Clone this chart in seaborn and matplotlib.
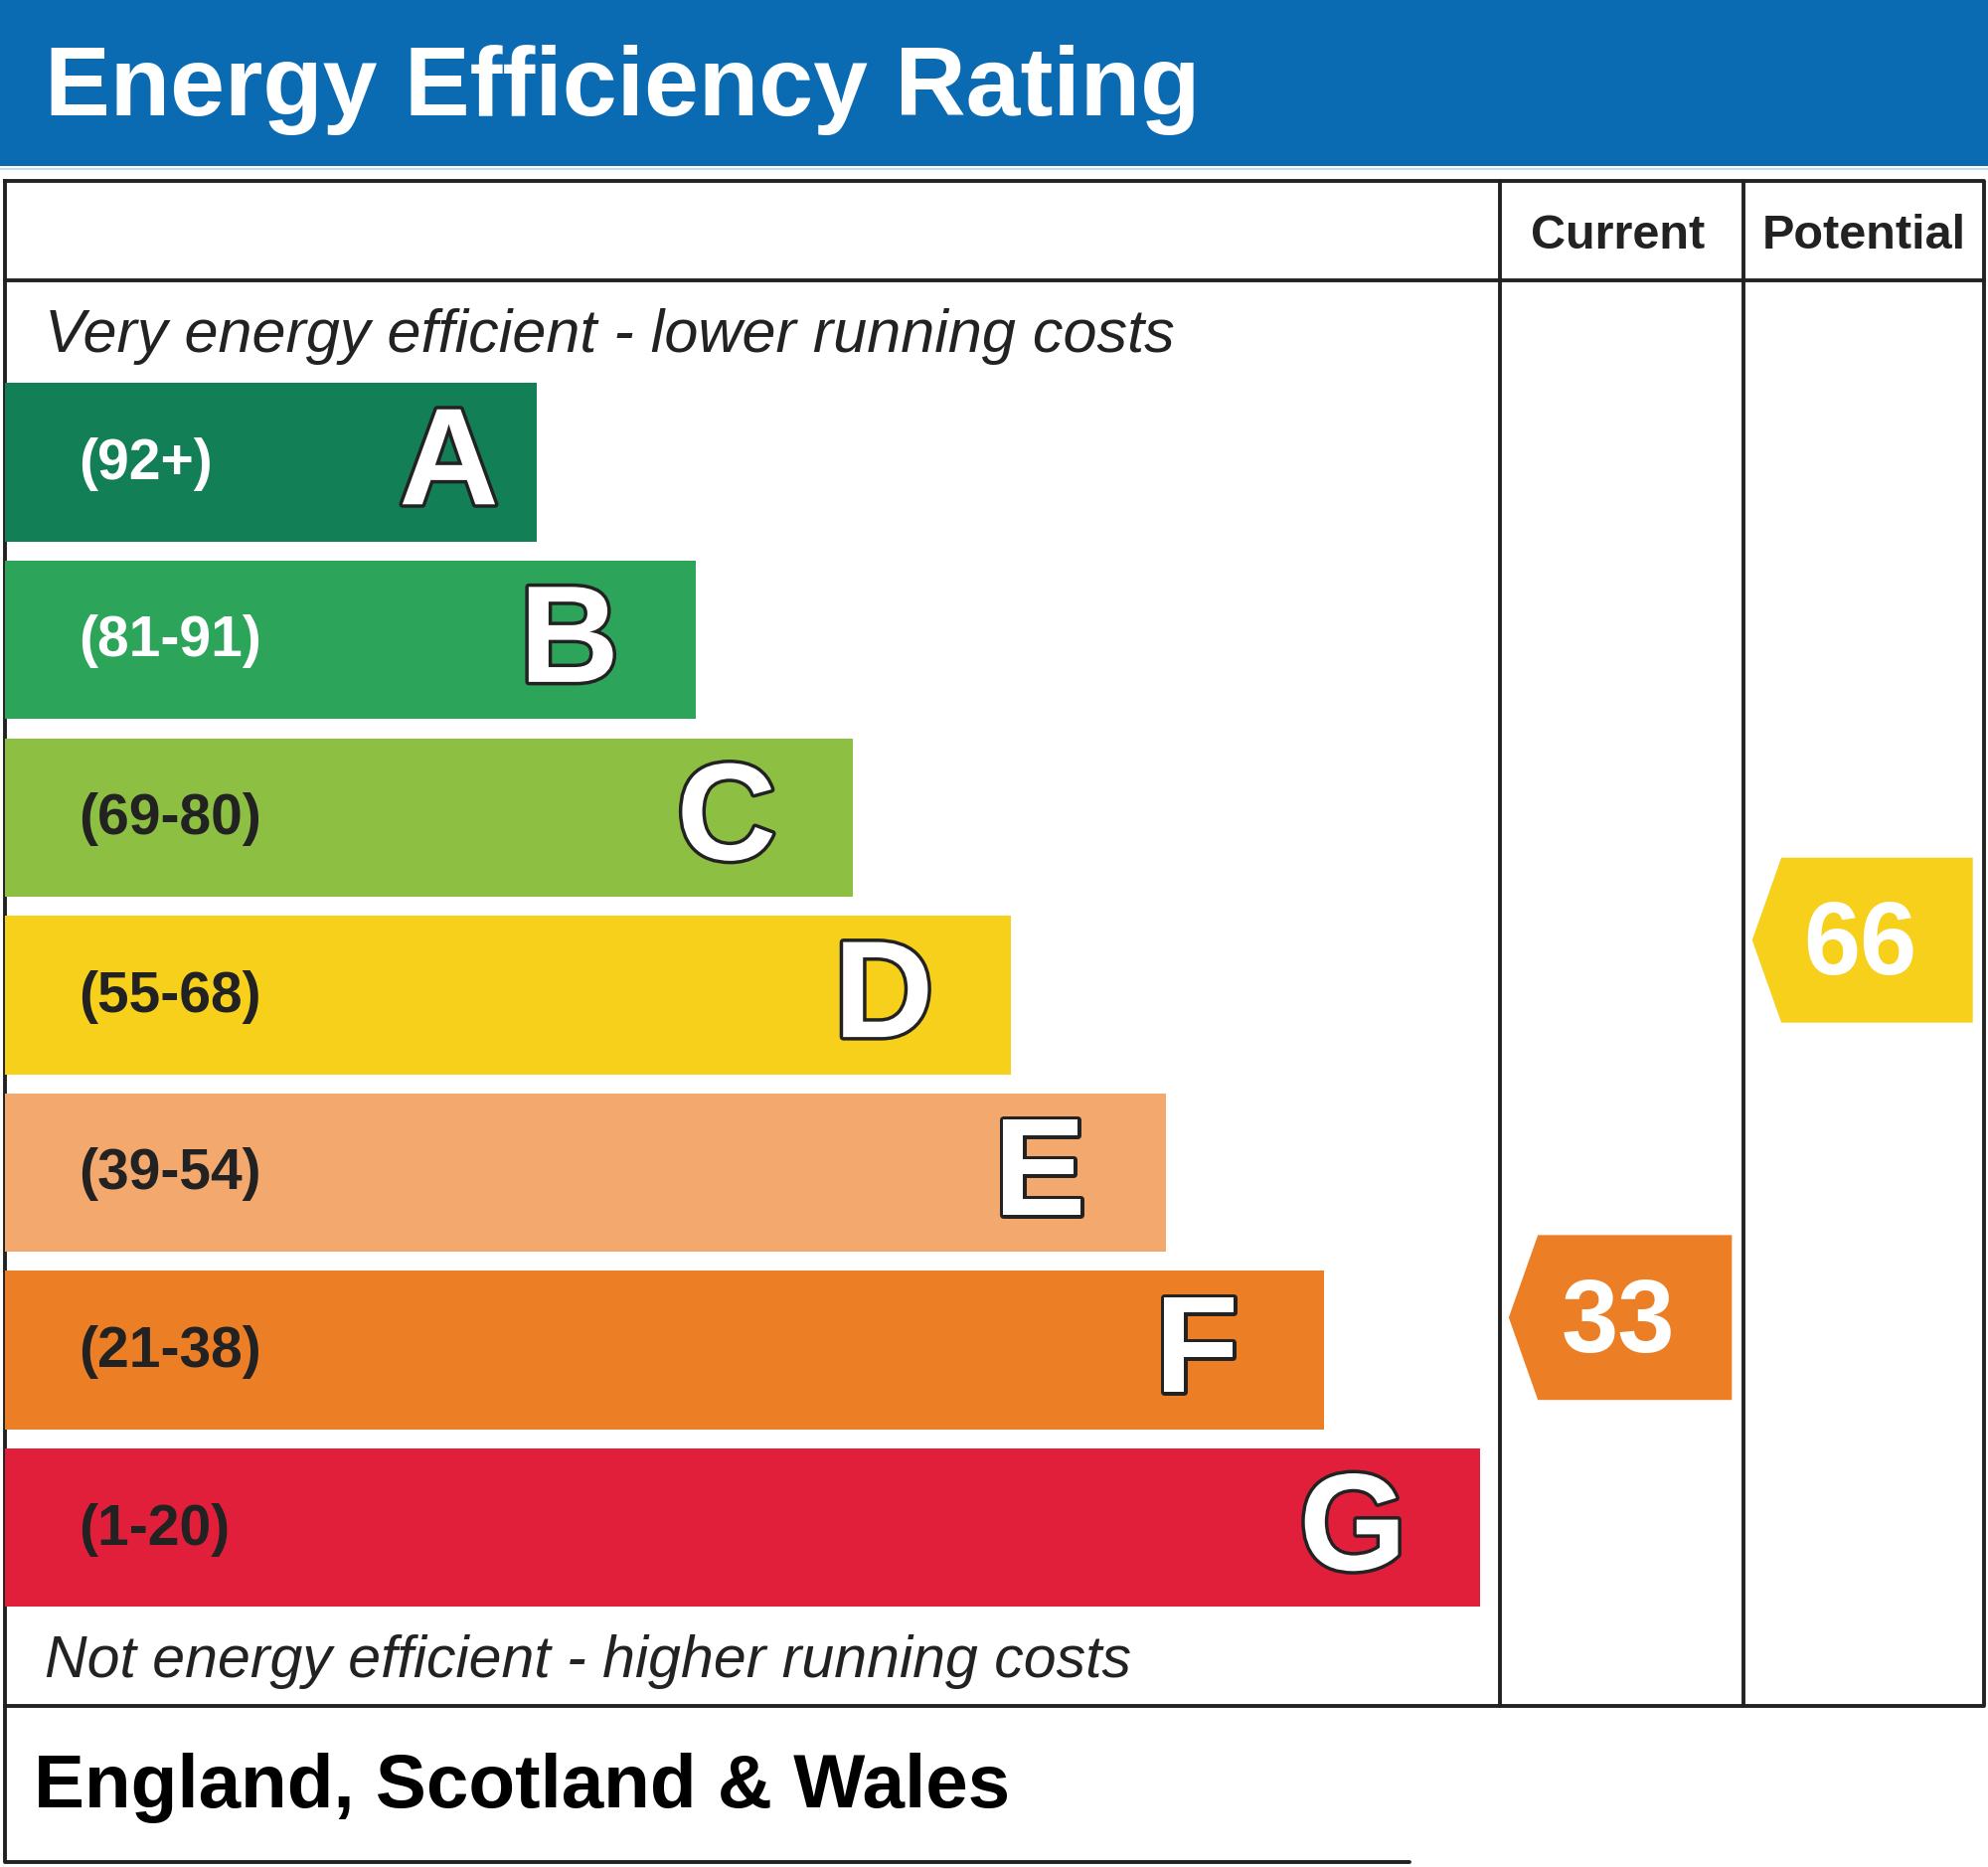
import matplotlib
matplotlib.use("Agg")
import matplotlib.pyplot as plt
import matplotlib.patheffects as pe
from matplotlib.patches import Polygon, Rectangle
import numpy as np
import pandas as pd
import seaborn as sns

# ---- data ----
bands = ['A', 'B', 'C', 'D', 'E', 'F', 'G']
range_labels = ['(92+)', '(81-91)', '(69-80)', '(55-68)', '(39-54)', '(21-38)', '(1-20)']
band_lo = [92, 81, 69, 55, 39, 21, 1]
band_hi = [100, 91, 80, 68, 54, 38, 20]
bar_len = [419, 545, 669, 793, 916, 1040, 1163]
band_colors = ['#127f56', '#2ca55a', '#8dbf43', '#f6d01a', '#f3a86e', '#ec7e26', '#e11f3b']
label_colors = ['white', 'white', '#222222', '#222222', '#222222', '#222222', '#222222']

current_score = 33
potential_score = 66

title = 'Energy Efficiency Rating'
col_titles = ['Current', 'Potential']
top_note = 'Very energy efficient - lower running costs'
bottom_note = 'Not energy efficient - higher running costs'
region = 'England, Scotland & Wales'

sns.set_theme(style='white')
plt.rcParams['font.family'] = ['Liberation Sans', 'DejaVu Sans']

W, H = 1568, 1472          # layout units (scaled to 2000x1878 px)
X0 = 4                     # left border of the table
BAND_TOP, BAND_STEP, BAR_H = 302, 140, 125
COL1, COL2, COL3 = 1183, 1375, 1565
LW = 2.8
INK = '#222222'

fig = plt.figure(figsize=(20, 18.78), dpi=100)
ax = fig.add_axes([0, 0, 1, 1])
ax.set_xlim(0, W)
ax.set_ylim(H, 0)
ax.axis('off')

# header band
ax.add_patch(Rectangle((0, 0), W, 131, color='#0a6ab2', lw=0))
ax.plot([0, W], [133, 133], color='#b9d3ea', lw=1.2)
ax.text(35, 71, title, color='white', fontsize=71, fontweight='bold', va='center', ha='left')

# table frame
ax.plot([X0, COL3, COL3, X0, X0], [143, 143, 1345, 1345, 143], color=INK, lw=LW, solid_capstyle='projecting')
ax.plot([X0, COL3], [221, 221], color=INK, lw=LW)
for cx in (COL1, COL2):
    ax.plot([cx, cx], [143, 1345], color=INK, lw=LW)
# footer box
ax.plot([X0, X0, 1112], [1345, 1468, 1468], color=INK, lw=LW)

ax.text((COL1 + COL2) / 2 - 3, 186, col_titles[0], fontsize=35, fontweight='bold', color=INK, ha='center', va='center')
ax.text((COL2 + COL3) / 2, 186, col_titles[1], fontsize=35, fontweight='bold', color=INK, ha='center', va='center')
ax.text(35, 265, top_note, fontsize=44, style='italic', color=INK, ha='left', va='center')
ax.text(35, 1310, bottom_note, fontsize=42.5, style='italic', color=INK, ha='left', va='center')
ax.text(27, 1410, region, fontsize=55, fontweight='bold', color='black', ha='left', va='center')

# ---- bars ----
gap = (BAND_STEP - BAR_H) / 2
y_top = BAND_TOP - gap
y_bot = y_top + BAND_STEP * len(bands)
bar_ax = fig.add_axes([X0 / W, 1 - y_bot / H, (W - X0) / W, (y_bot - y_top) / H])
bar_ax.patch.set_alpha(0)

df = pd.DataFrame({'band': bands, 'length': bar_len})
sns.barplot(data=df, x='length', y='band', hue='band', palette=band_colors, orient='h',
            width=BAR_H / BAND_STEP, saturation=1, linewidth=0, legend=False, ax=bar_ax)
bar_ax.set_xlim(0, W - X0)
bar_ax.set_ylim(len(bands) - 0.5, -0.5)
bar_ax.axis('off')

outline = [pe.withStroke(linewidth=5, foreground=INK)]
for i, (b, lab, ln) in enumerate(zip(bands, range_labels, bar_len)):
    bar_ax.text(58, i + 0.01, lab, fontsize=41, fontweight='bold', color=label_colors[i], ha='left', va='center')
    # the A tag sits closer to the end of its short bar
    lx = ln - 69 if i == 0 else ln - 100
    bar_ax.text(lx, i + 0.035, b, fontsize=100, fontweight='bold', color='white',
                ha='center', va='center', path_effects=outline)

# ---- rating arrows ----
h = BAR_H / BAND_STEP
arrow_h = 130 / BAND_STEP


def band_pos(score):
    for i, (lo, hi) in enumerate(zip(band_lo, band_hi)):
        if lo <= score <= hi:
            return i, i + h / 2 - (score - lo) / (hi - lo) * h
    return len(bands) - 1, len(bands) - 1


def draw_arrow(score, left, right):
    i, yc = band_pos(score)
    tip = left + 7 - X0
    body = tip + 23
    end = right - 9 - X0
    pts = [(tip, yc), (body, yc - arrow_h / 2), (end, yc - arrow_h / 2),
           (end, yc + arrow_h / 2), (body, yc + arrow_h / 2)]
    bar_ax.add_patch(Polygon(pts, closed=True, color=band_colors[i], lw=0))
    bar_ax.text((tip + end) / 2 - 2, yc + 0.045, str(score), fontsize=74, fontweight='bold', color='white',
                ha='center', va='center')


draw_arrow(current_score, COL1, COL2)
draw_arrow(potential_score, COL2, COL3)

fig.savefig('out.png', dpi=100, facecolor='white')
